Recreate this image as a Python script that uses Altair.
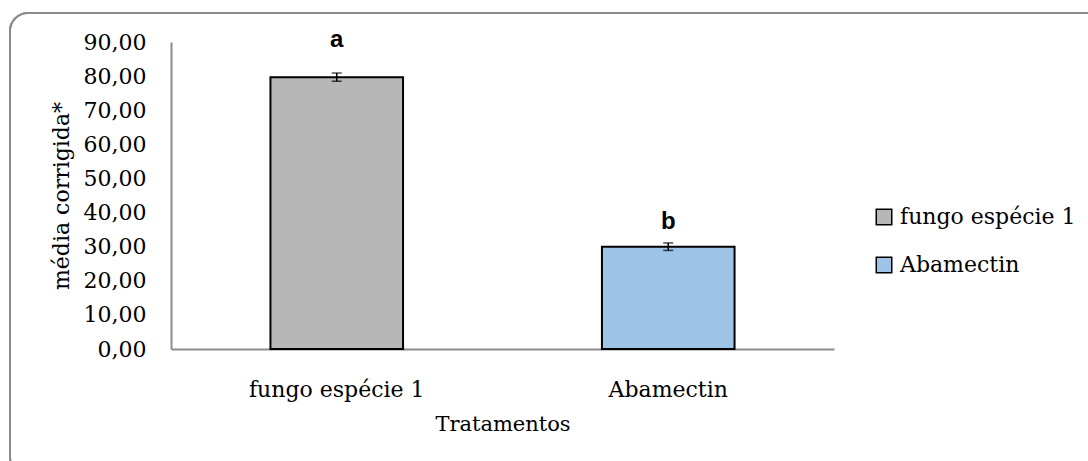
import altair as alt
import pandas as pd

categories = ["fungo espécie 1", "Abamectin"]
values = [79.7, 30.0]
errors = [1.2, 1.1]
letters = ["a", "b"]
colors = ["#B7B7B7", "#9DC3E6"]

df = pd.DataFrame({"cat": categories, "val": values, "err": errors, "letter": letters})
df["lo"] = df["val"] - df["err"]
df["hi"] = df["val"] + df["err"]

SERIF = "DejaVu Serif"

x_axis = alt.Axis(labelAngle=0, ticks=False, tickSize=0, labelPadding=30,
                  labelFont=SERIF, labelFontSize=22, labelColor="#000",
                  titleFont=SERIF, titleFontSize=21, titleFontWeight="normal",
                  titleColor="#000", titlePadding=13,
                  domainColor="#8C8C8C", domainWidth=2)
y_axis = alt.Axis(values=list(range(0, 91, 10)), grid=False, labelOverlap=False,
                  labelExpr="replace(format(datum.value, '.2f'), '.', ',')",
                  ticks=False, tickSize=0, labelPadding=25,
                  labelFont=SERIF, labelFontSize=22, labelColor="#000",
                  titleFont=SERIF, titleFontSize=22, titleFontWeight="normal",
                  titleColor="#000", titleX=-110, titleBaseline="middle",
                  domainColor="#8C8C8C", domainWidth=2)
x_scale = alt.Scale(paddingInner=0.6, paddingOuter=0.3)
y_scale = alt.Scale(domain=[0, 90])


def X():
    return alt.X("cat:N", sort=categories, title="Tratamentos", scale=x_scale, axis=x_axis)


def Y(field):
    return alt.Y(field, title="média corrigida*", scale=y_scale, axis=y_axis)


border = alt.Chart(df).mark_rect(fill="transparent", stroke="#8C8C8C", strokeWidth=2,
                                 cornerRadius=18).encode(
    x=alt.value(10 - 171), x2=alt.value(1110 - 171),
    y=alt.value(13 - 42), y2=alt.value(475 - 42))

bars = alt.Chart(df).mark_bar(stroke="#000", strokeWidth=2).encode(
    x=X(), y=Y("val:Q"),
    color=alt.Color("cat:N", sort=categories,
                    scale=alt.Scale(domain=categories, range=colors),
                    legend=alt.Legend(title=None, orient="none", legendX=702, legendY=164,
                                      symbolType="square", symbolSize=240,
                                      symbolStrokeColor="#000", symbolStrokeWidth=1.5,
                                      labelFont=SERIF, labelFontSize=22, labelColor="#000",
                                      labelLimit=400, rowPadding=26, labelOffset=5)))

rule = alt.Chart(df).mark_rule(color="#000", strokeWidth=1.5).encode(
    x=X(), y=Y("lo:Q"), y2="hi:Q")
cap_lo = alt.Chart(df).mark_tick(color="#000", thickness=1.5, size=10, orient="horizontal").encode(
    x=X(), y=Y("lo:Q"))
cap_hi = alt.Chart(df).mark_tick(color="#000", thickness=1.5, size=10, orient="horizontal").encode(
    x=X(), y=Y("hi:Q"))

txt_a = alt.Chart(df).transform_filter(alt.datum.letter == "a").mark_text(
    font="Liberation Sans", fontSize=24, fontWeight="bold", dy=-26, baseline="alphabetic").encode(
    x=X(), y=Y("hi:Q"), text="letter:N")
txt_b = alt.Chart(df).transform_filter(alt.datum.letter == "b").mark_text(
    font="Liberation Sans", fontSize=24, fontWeight="bold", dy=-14, baseline="alphabetic").encode(
    x=X(), y=Y("hi:Q"), text="letter:N")

chart = alt.layer(bars, border, rule, cap_lo, cap_hi, txt_a, txt_b).properties(
    width=663, height=307,
    autosize=alt.AutoSizeParams(type="none"),
    padding={"left": 171, "top": 42, "right": 254, "bottom": 112},
    background="white",
).configure_view(stroke=None)

chart.save("out.html", embed_options={"renderer": "svg", "actions": False})
